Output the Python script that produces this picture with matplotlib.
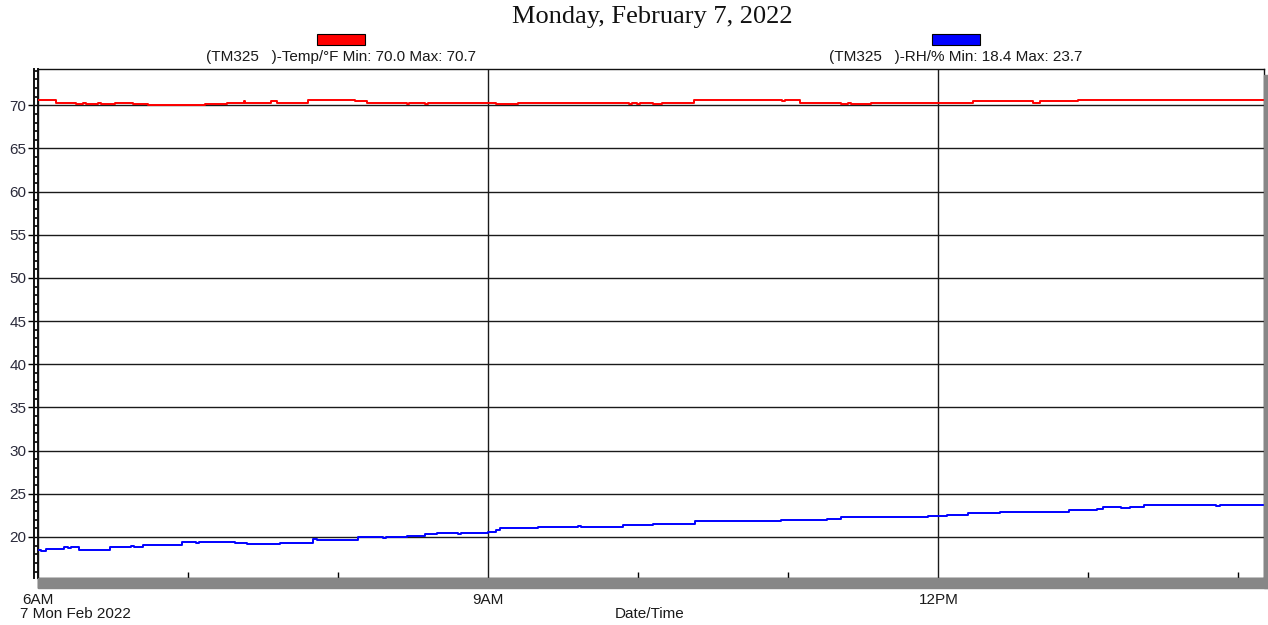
import numpy as np
from matplotlib import pyplot as plt
from matplotlib.lines import Line2D
from matplotlib.patches import Rectangle

# Readings from the TM325 logger, hours since midnight (step changes only)
temp_hours = [6.00, 6.12, 6.25, 6.30, 6.32, 6.40, 6.42, 6.51, 6.63, 6.73,
              7.11, 7.26, 7.37, 7.38, 7.55, 7.59, 7.80, 8.11, 8.19, 8.46,
              8.47, 8.58, 8.60, 9.05, 9.20, 9.94, 9.96, 9.99, 10.01, 10.10,
              10.16, 10.37, 10.96, 10.98, 11.08, 11.35, 11.40, 11.42, 11.55,
              12.23, 12.26, 12.28, 12.32, 12.34, 12.63, 12.68, 12.73, 12.93,
              14.17]
temp_values = [70.6, 70.3, 70.15, 70.25, 70.15, 70.25, 70.15, 70.3, 70.1, 70.0,
               70.1, 70.3, 70.45, 70.3, 70.5, 70.3, 70.6, 70.45, 70.3, 70.15,
               70.3, 70.15, 70.3, 70.1, 70.3, 70.15, 70.3, 70.15, 70.3, 70.1,
               70.3, 70.6, 70.45, 70.6, 70.3, 70.15, 70.25, 70.15, 70.3,
               70.55, 70.45, 70.55, 70.45, 70.55, 70.3, 70.55, 70.5, 70.6,
               70.6]

rh_hours = [6.00, 6.02, 6.05, 6.17, 6.20, 6.22, 6.27, 6.48, 6.62, 6.64,
            6.70, 6.96, 7.05, 7.07, 7.31, 7.39, 7.61, 7.83, 7.86, 8.13,
            8.30, 8.32, 8.46, 8.58, 8.66, 8.80, 8.82, 9.00, 9.05, 9.08,
            9.33, 9.60, 9.62, 9.90, 10.10, 10.38, 10.95, 11.26, 11.35,
            11.93, 12.06, 12.20, 12.41, 12.87, 13.06, 13.10, 13.17, 13.22,
            13.28, 13.37, 13.85, 13.88, 14.17]
rh_values = [18.5, 18.4, 18.6, 18.8, 18.7, 18.8, 18.5, 18.8, 18.95, 18.8,
             19.05, 19.45, 19.35, 19.45, 19.35, 19.15, 19.35, 19.75, 19.6, 19.95,
             19.85, 19.95, 20.1, 20.35, 20.45, 20.35, 20.45, 20.6, 20.85, 21.05,
             21.2, 21.3, 21.2, 21.35, 21.55, 21.8, 21.95, 22.1, 22.3,
             22.42, 22.6, 22.8, 22.9, 23.1, 23.25, 23.43, 23.5, 23.35,
             23.5, 23.7, 23.6, 23.7, 23.7]

major_hours = [6, 9, 12]
major_labels = ["6AM", "9AM", "12PM"]
minor_hours = [7, 8, 10, 11, 13, 14]

temp_label = "(TM325   )-Temp/°F Min: 70.0 Max: 70.7"
rh_label = "(TM325   )-RH/% Min: 18.4 Max: 23.7"
title = "Monday, February 7, 2022"

W, H = 1268, 625


def px(x, y):
    # pixel coords (top-left origin) -> figure fraction
    return x / W, 1 - y / H


def main():
    fig = plt.figure(figsize=(W / 100, H / 100), dpi=100)
    left, top = 38, 69
    right, bottom = 1264, 578
    ax = fig.add_axes([left / W, 1 - bottom / H,
                       (right - left) / W, (bottom - top) / H])

    # drop shadow behind the plot frame
    fig.patches.append(Rectangle(px(left, bottom + 10), (W - left) / W, 10 / H,
                                 transform=fig.transFigure, color="#878787",
                                 zorder=0))
    fig.patches.append(Rectangle(px(right, bottom + 10), (W - right) / W,
                                 (bottom + 10 - top - 6) / H,
                                 transform=fig.transFigure, color="#878787",
                                 zorder=0))

    ax.plot(temp_hours, temp_values, drawstyle="steps-post",
            color="#ff0000", lw=1.4, zorder=3)
    ax.plot(rh_hours, rh_values, drawstyle="steps-post",
            color="#0000ff", lw=1.4, zorder=3)

    ax.set_xlim(6, 14.17)
    ax.set_ylim(15.25, 74.2)

    ax.set_yticks(np.arange(20, 71, 5))
    ax.set_yticks(np.arange(16, 75, 1), minor=True)
    ax.set_xticks(major_hours)
    ax.set_xticklabels(major_labels)
    ax.set_xticks(minor_hours, minor=True)

    ax.grid(True, which="major", color="#1a1a1a", lw=1.0)
    ax.set_axisbelow(True)

    ax.tick_params(axis="y", which="major", direction="out", length=7.5,
                   width=1, labelsize=11, labelcolor="#2a2a3a", pad=1)
    ax.tick_params(axis="y", which="minor", direction="out", length=3.2,
                   width=1.2)
    ax.tick_params(axis="x", which="major", direction="out", length=7,
                   width=1, labelsize=11, labelcolor="#1a1a1a", pad=4)
    ax.tick_params(axis="x", which="minor", direction="in", length=4,
                   width=1)
    for lab in ax.get_xticklabels() + ax.get_yticklabels():
        lab.set_family("Liberation Sans")
    for sp in ax.spines.values():
        sp.set_color("#111111")
        sp.set_linewidth(1.0)
    ax.spines["left"].set_linewidth(1.4)

    # outer rail of the ladder-style y axis
    fig.add_artist(Line2D([34 / W, 34 / W], [1 - top / H, 1 - bottom / H],
                          color="#111111", lw=1.4))

    # legend swatches and labels above the plot
    for cx, col, lab in [(341, "#ff0000", temp_label),
                         (956, "#0000ff", rh_label)]:
        x0, y0 = px(cx - 24, 45)
        fig.patches.append(Rectangle((x0, y0), 48 / W, 11 / H,
                                     transform=fig.transFigure, facecolor=col,
                                     edgecolor="black", lw=0.8))
        fig.text(*px(cx, 57), lab, ha="center", va="center", fontsize=11,
                 family="Liberation Sans", color="#1a1a1a")

    fig.text(*px(652, 17), title, ha="center", va="center", fontsize=19,
             family="Liberation Serif", color="#111111")
    fig.text(*px(20, 614), "7 Mon Feb 2022", ha="left", va="center",
             fontsize=11, family="Liberation Sans", color="#1a1a1a")
    fig.text(*px(650, 614), "Date/Time", ha="center", va="center",
             fontsize=11, family="Liberation Sans", color="#1a1a1a")

    fig.savefig("out.png", dpi=100)


if __name__ == "__main__":
    main()
